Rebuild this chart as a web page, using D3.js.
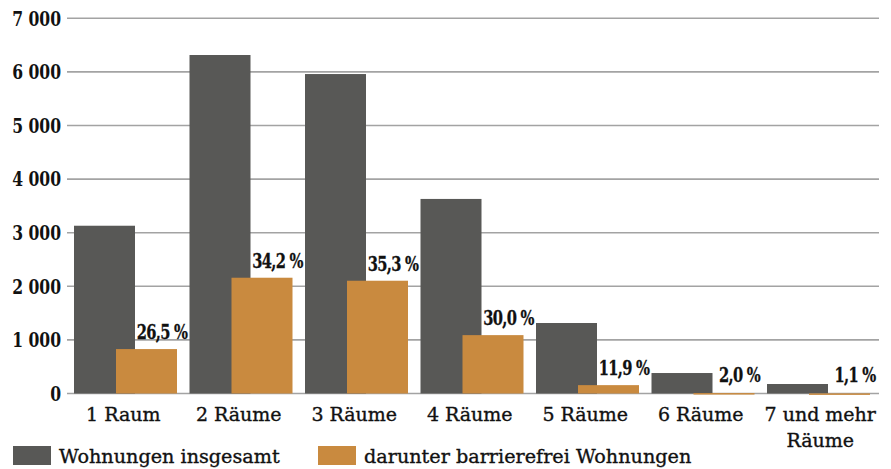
<!DOCTYPE html>
<html><head><meta charset="utf-8">
<script src="https://cdn.jsdelivr.net/npm/d3@7"></script>
<style>
html,body{margin:0;padding:0;background:#fff;}
svg{display:block;font-family:"DejaVu Serif","Liberation Serif",serif;}
</style></head>
<body><svg id="c" width="891" height="469"></svg>
<script>
const categories = ["1 Raum","2 Räume","3 Räume","4 Räume","5 Räume","6 Räume","7 und mehr Räume"];
const totalValues = [3130, 6315, 5960, 3630, 1315, 382, 177];
const barrierefreiValues = [829, 2160, 2104, 1089, 156, 8, 2];
const percentLabels = ["26,5 %","34,2 %","35,3 %","30,0 %","11,9 %","2,0 %","1,1 %"];
const yTicks = [0,1000,2000,3000,4000,5000,6000,7000];
const seriesNames = ["Wohnungen insgesamt","darunter barrierefrei Wohnungen"];
const colors = ["#585856","#C98A3F"];

const svg = d3.select("#c");
const x = d3.scaleBand().domain(categories).range([67.5, 876]).padding(0);
const y = d3.scaleLinear().domain([0,7000]).range([393.5, 18.3]);
const bw = x.bandwidth();
const barW = 61;
const offDark = 6.5, offOr = 48.5;

// gridlines
svg.append("g").selectAll("line").data(yTicks).join("line")
  .attr("x1",67).attr("x2",879)
  .attr("y1",d=>y(d)).attr("y2",d=>y(d))
  .attr("stroke","#a3a3a3").attr("stroke-width",1.6);

// y labels
const fmt = v => d3.format(",")(v).replace(/,/g," ");
svg.append("g").selectAll("text").data(yTicks).join("text")
  .attr("transform",d=>`translate(61,${y(d)+7.3}) scale(0.78,1)`)
  .attr("text-anchor","end")
  .attr("font-size",20).attr("font-weight","bold").attr("fill","#111")
  .text(d=>fmt(d));

// bars
svg.append("g").selectAll("rect").data(categories).join("rect")
  .attr("x",d=>x(d)+offDark).attr("width",barW)
  .attr("y",(d,i)=>y(totalValues[i])).attr("height",(d,i)=>y(0)-y(totalValues[i]))
  .attr("fill",colors[0]);
svg.append("g").selectAll("rect").data(categories).join("rect")
  .attr("x",d=>x(d)+offOr).attr("width",barW)
  .attr("y",(d,i)=>y(barrierefreiValues[i])).attr("height",(d,i)=>Math.max(1.5,y(0)-y(barrierefreiValues[i])))
  .attr("fill",colors[1]);

// percent labels
svg.append("g").selectAll("text").data(categories).join("text")
  .attr("transform",(d,i)=>`translate(${x(d)+offOr+barW/2+15.5},${Math.min(y(barrierefreiValues[i]), 391.5)-10}) scale(0.7,1)`)
  .attr("text-anchor","middle")
  .attr("font-size",21).attr("font-weight","bold").attr("fill","#111")
  .attr("stroke","#111").attr("stroke-width",0.3)
  .attr("letter-spacing",-1)
  .text((d,i)=>percentLabels[i]);

// x labels
const xl = svg.append("g").attr("font-size",19).attr("fill","#111")
  .attr("stroke","#111").attr("stroke-width",0.35).attr("text-anchor","middle");
categories.forEach((c,i)=>{
  const cx = x(c)+bw/2 - 2;
  if (c === "7 und mehr Räume") {
    xl.append("text").attr("x",cx+4).attr("y",421).text("7 und mehr");
    xl.append("text").attr("x",cx+4).attr("y",447).text("Räume");
  } else {
    xl.append("text").attr("x",cx).attr("y",421).text(c);
  }
});

// legend
const leg = svg.append("g");
const legX = [13, 318];
seriesNames.forEach((n,i)=>{
  leg.append("rect").attr("x",legX[i]).attr("y",446).attr("width",38).attr("height",19).attr("fill",colors[i]);
  leg.append("text").attr("x",legX[i]+46).attr("y",463).attr("font-size",19.2)
    .attr("fill","#111").attr("stroke","#111").attr("stroke-width",0.35).text(n);
});
</script></body></html>
